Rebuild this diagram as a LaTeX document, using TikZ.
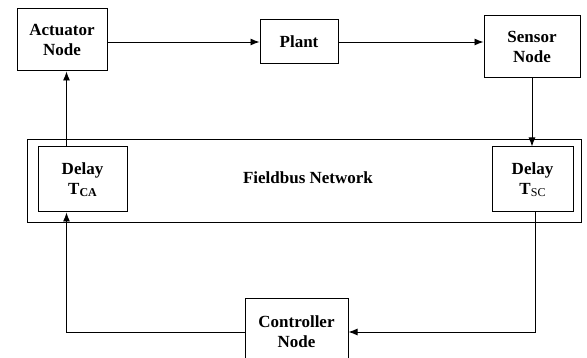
\documentclass[tikz,border=0pt]{standalone}
\usepackage{fontspec}
\setmainfont{Liberation Serif}
\usetikzlibrary{arrows.meta}

\begin{document}
\begin{tikzpicture}[x=1pt, y=-1pt, >={Latex[length=9pt,width=7pt]}, line width=0.9pt,
  font=\bfseries\fontsize{17}{20}\selectfont,
  caja/.style={draw, line width=1pt, align=center, inner sep=0pt}]
  \useasboundingbox (0,0) rectangle (587,358);

  % Bloques de la planta y nodos
  \node[caja, minimum width=90pt, minimum height=62pt] (actuador) at (62,40) {Actuator\\Node};
  \node[caja, minimum width=78pt, minimum height=44pt] (planta) at (299,42) {Plant};
  \node[caja, minimum width=96pt, minimum height=62pt] (sensor) at (532,47) {Sensor\\Node};

  % Red de campo con sus retardos
  \node[caja, minimum width=554pt, minimum height=83pt] (red) at (304,181.5) {};
  \node (etiqueta) at (308,178) {Fieldbus Network};
  \node[caja, minimum width=89pt, minimum height=65pt] (retCA) at (82.5,179.5)
    {Delay\\T\raisebox{-2.5pt}{\fontsize{12}{12}\selectfont CA}};
  \node[caja, minimum width=81pt, minimum height=65pt] (retSC) at (532.5,179.5)
    {Delay\\T\raisebox{-2.5pt}{\fontsize{12}{12}\selectfont\mdseries SC}};

  % Controlador (cortado abajo)
  \node[caja, minimum width=103pt, minimum height=66pt] (control) at (296.5,332) {Controller\\Node};

  % Flechas
  \draw[->] (actuador.east |- planta.west) -- (planta.west);
  \draw[->] (planta.east) -- (sensor.west |- planta.east);
  \draw[->] (sensor.south) -- (sensor.south |- retSC.north);
  \draw[->] ([xshift=2.5pt]retSC.south) |- (control.east);
  \draw[->] (control.west) -| ([xshift=-16pt]retCA.south);
  \draw[->] ([xshift=-16pt]retCA.north) -- ([xshift=-16pt]retCA.north |- actuador.south);
\end{tikzpicture}
\end{document}
